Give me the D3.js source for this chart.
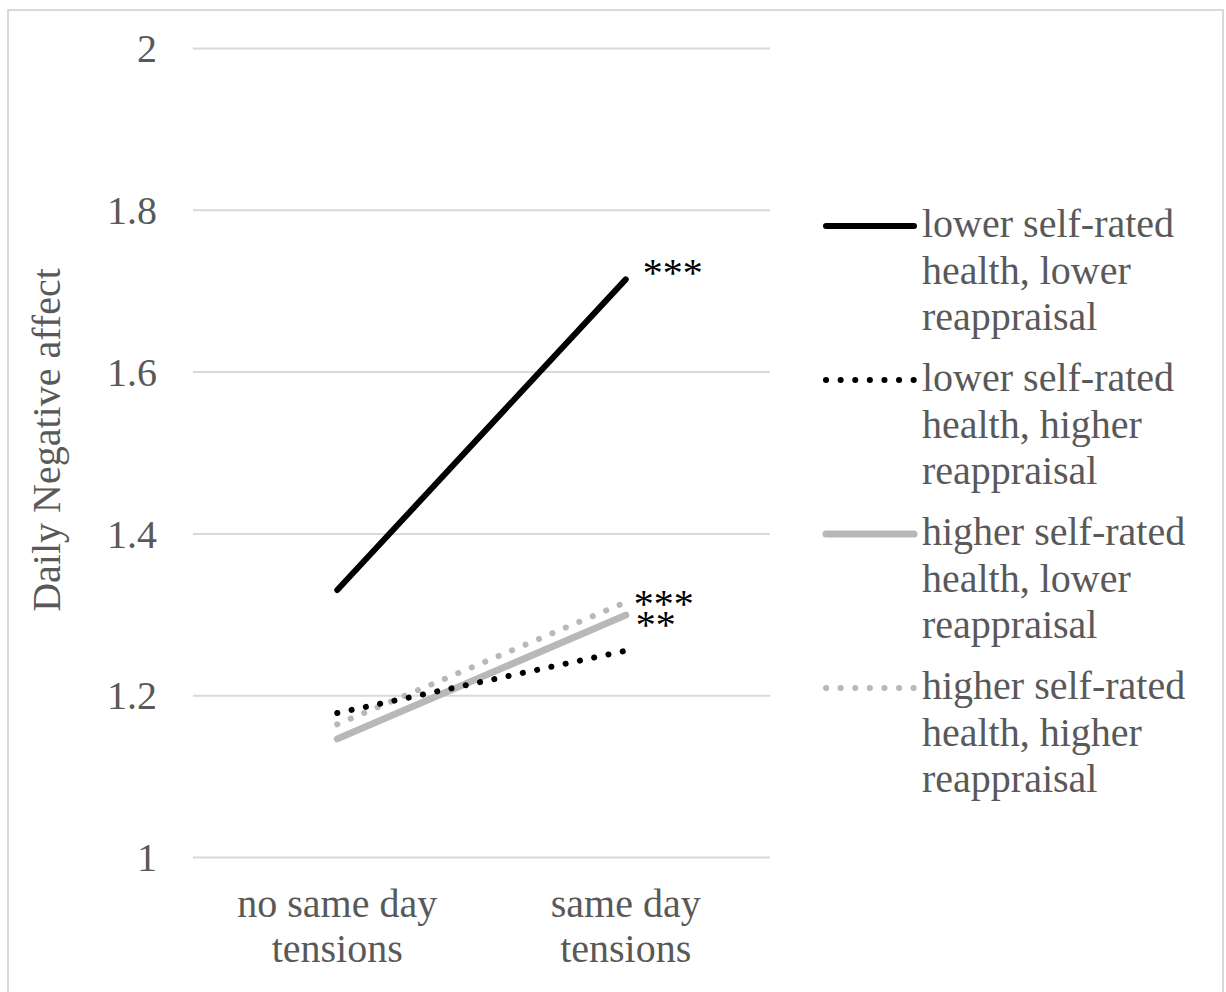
<!DOCTYPE html>
<html>
<head>
<meta charset="utf-8">
<script src="https://cdn.jsdelivr.net/npm/d3@7"></script>
<style>
  body { margin: 0; background: #fff; }
  svg { display: block; font-family: "Liberation Serif", "Times New Roman", serif; }
</style>
</head>
<body>
<div id="graphic"></div>
<script>
// data
var categories = [["no same day", "tensions"], ["same day", "tensions"]];
var seriesNames = [
  ["lower self-rated", "health, lower", "reappraisal"],
  ["lower self-rated", "health, higher", "reappraisal"],
  ["higher self-rated", "health, lower", "reappraisal"],
  ["higher self-rated", "health, higher", "reappraisal"]
];
var lowerLower = [1.330, 1.714];
var lowerHigher = [1.178, 1.255];
var higherLower = [1.146, 1.299];
var higherHigher = [1.164, 1.315];
var stars = ["***", "", "**", "***"];
var yTicks = [1, 1.2, 1.4, 1.6, 1.8, 2];

var series = [
  {name: seriesNames[0], values: lowerLower, color: "#000", dots: false, w: 6},
  {name: seriesNames[1], values: lowerHigher, color: "#000", dots: true, w: 6},
  {name: seriesNames[2], values: higherLower, color: "#b8b8b8", dots: false, w: 7},
  {name: seriesNames[3], values: higherHigher, color: "#b8b8b8", dots: true, w: 6}
];

var W = 1226, H = 992;
var margin = {top: 48, right: 456, bottom: 135, left: 193};
var width = W - margin.left - margin.right,
    height = H - margin.top - margin.bottom;
var textColor = "#595959";
var fs = "40px";

var svg = d3.select("#graphic").append("svg")
  .attr("width", W).attr("height", H);

// outer frame
svg.append("rect")
  .attr("x", 8).attr("y", 10).attr("width", 1215).attr("height", 1000)
  .attr("fill", "none").attr("stroke", "#d9d9d9").attr("stroke-width", 2);

var g = svg.append("g")
  .attr("transform", "translate(" + margin.left + "," + margin.top + ")");

var x = d3.scaleBand()
  .domain(d3.range(categories.length))
  .range([0, width]);

var y = d3.scaleLinear()
  .domain([1, 2])
  .range([height, 0]);

// gridlines + y labels
var yAxis = g.append("g")
  .call(d3.axisLeft(y).tickValues(yTicks).tickSize(-width).tickFormat(d3.format("")));
yAxis.select(".domain").remove();
yAxis.selectAll(".tick line").attr("stroke", "#d9d9d9").attr("stroke-width", 2);
yAxis.selectAll(".tick text")
  .attr("x", -36).attr("dy", "0.34em")
  .attr("fill", textColor).style("font-size", fs)
  .style("font-family", "Liberation Serif");

// x labels
var xAxis = g.append("g")
  .attr("transform", "translate(0," + height + ")")
  .call(d3.axisBottom(x).tickSize(0).tickFormat(""));
xAxis.select(".domain").remove();
xAxis.selectAll(".tick").each(function(d) {
  var t = d3.select(this).append("text")
    .attr("text-anchor", "middle").attr("fill", textColor)
    .style("font-size", fs).style("font-family", "Liberation Serif");
  categories[d].forEach(function(s, i) {
    t.append("tspan").attr("x", 0).attr("y", 60 + i * 45).text(s);
  });
});

// axis title
svg.append("text")
  .attr("transform", "translate(60,440) rotate(-90)")
  .attr("text-anchor", "middle").attr("fill", textColor)
  .style("font-size", fs)
  .text("Daily Negative affect");

var cx = function(i) { return x(i) + x.bandwidth() / 2; };
var line = d3.line()
  .x(function(d, i) { return cx(i); })
  .y(function(d) { return y(d); });

function styleLine(sel, s) {
  sel.attr("fill", "none").attr("stroke", s.color)
    .attr("stroke-width", s.w).attr("stroke-linecap", "round");
  if (s.dots) sel.attr("stroke-dasharray", "0.1 14.5");
}

// draw lines: gray first so black lines sit on top like the original
[2, 3, 1, 0].forEach(function(k) {
  var s = series[k];
  g.append("path").datum(s.values).attr("d", line).call(styleLine, s);
});

// significance stars
var starOffsets = [[17, 7], [0, 0], [10, 23], [8, 15]];
series.forEach(function(s, k) {
  if (!stars[k]) return;
  g.append("text")
    .attr("x", cx(1) + starOffsets[k][0])
    .attr("y", y(s.values[1]) + starOffsets[k][1])
    .attr("fill", "#000").style("font-size", fs)
    .text(stars[k]);
});

// legend
var legend = svg.append("g").attr("transform", "translate(826,226)");
series.forEach(function(s, k) {
  var e = legend.append("g").attr("transform", "translate(0," + k * 154 + ")");
  e.append("line").attr("x1", 0).attr("x2", 88).attr("y1", 0).attr("y2", 0)
    .call(styleLine, s);
  var t = e.append("text").attr("fill", textColor).style("font-size", fs);
  s.name.forEach(function(n, i) {
    t.append("tspan").attr("x", 96).attr("y", 11 + i * 46.5).text(n);
  });
});
</script>
</body>
</html>
